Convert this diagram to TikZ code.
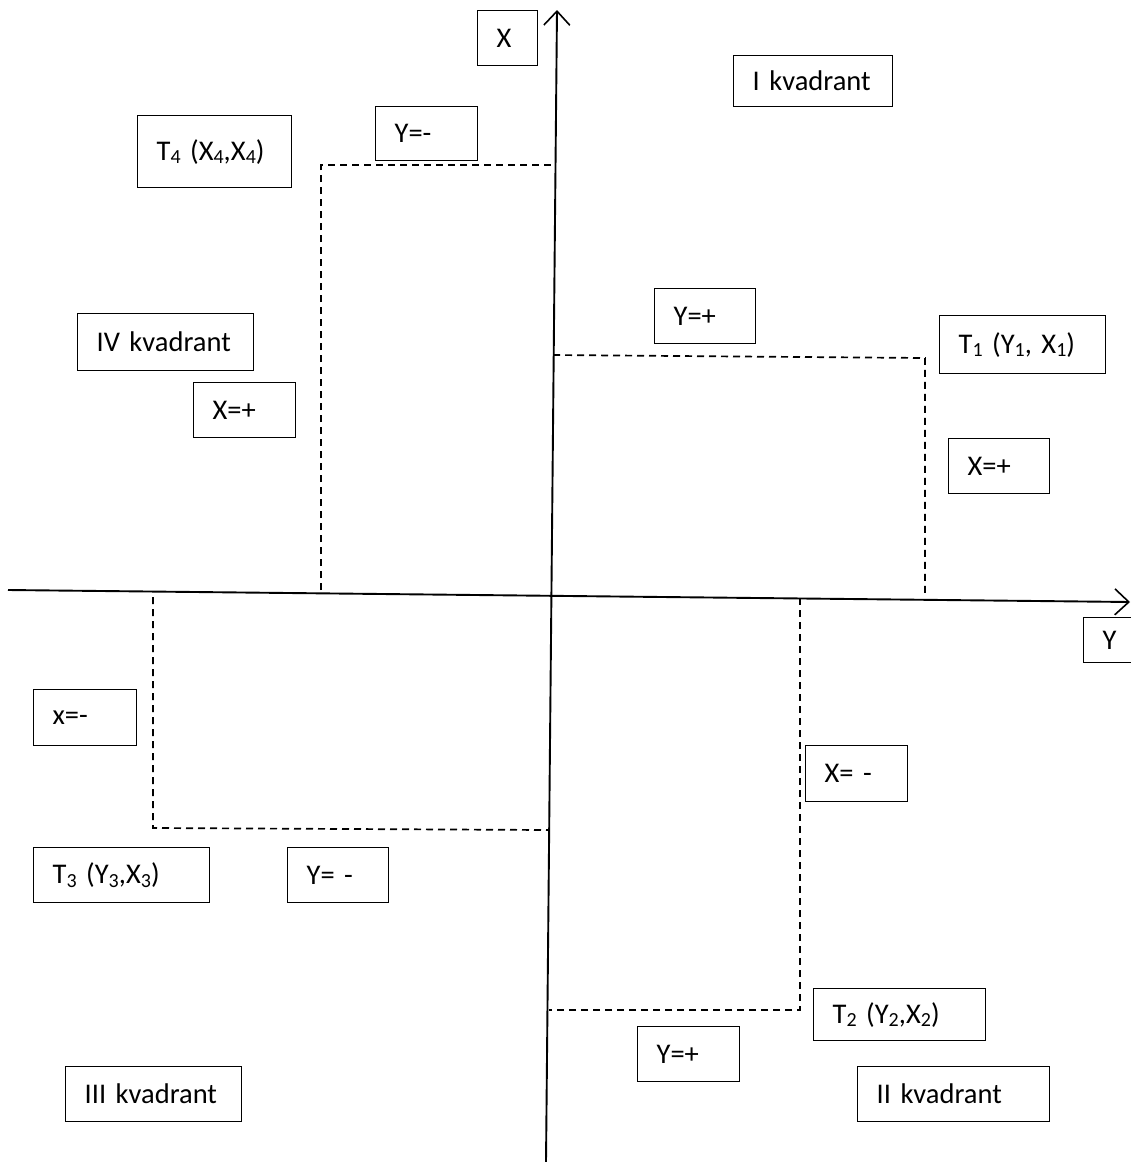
\documentclass[tikz,border=0pt]{standalone}
\usepackage{fontspec}
\setmainfont{Carlito}
\usetikzlibrary{arrows.meta}
\newcommand{\lowidx}[1]{\raisebox{-0.12em}{\fontsize{20}{20}\selectfont #1}}
\tikzset{
  lbl/.style={draw=black, line width=1.3pt, inner xsep=19pt, inner ysep=0pt, align=left,
    font=\fontsize{28.5}{31}\selectfont, anchor=north west},
  axis/.style={line width=1.9pt, -{Straight Barb[length=14pt,width=26pt,line width=1.6pt]}},
  guide/.style={line width=1.7pt, dash pattern=on 7pt off 5pt},
}
\newcommand{\lbox}[6]{% name, x1, y1, x2, y2, text
  \pgfmathsetmacro{\tw}{#4-#2-38}
  \pgfmathsetmacro{\hh}{#5-#3}
  \node[lbl, text width=\tw pt, minimum height=\hh pt] (#1) at (#2,#3) {#6};}
\begin{document}
\begin{tikzpicture}[x=1pt,y=-1pt]
\useasboundingbox[fill=white] (0,0) rectangle (1130,1162);
% axes
\coordinate (xb) at (546,1162);
\coordinate (xt) at (557,10);
\coordinate (yl) at (8,590);
\coordinate (yr) at (1130,602);
\draw[axis] (xb) -- (xt);
\draw[axis] (yl) -- (yr);
% dashed guides
\coordinate (a1) at (321,590); \coordinate (a2) at (321,165); \coordinate (a3) at (553,165);
\draw[guide] (a1) -- (a2) -- (a3);
\coordinate (b1) at (553,355); \coordinate (b2) at (925,358); \coordinate (b3) at (925,597);
\draw[guide] (b1) -- (b2) -- (b3);
\coordinate (c1) at (153,597); \coordinate (c2) at (153,828); \coordinate (c3) at (548,830);
\draw[guide] (c1) -- (c2) -- (c3);
\coordinate (d1) at (800,598); \coordinate (d2) at (800,1010); \coordinate (d3) at (549,1010);
\draw[guide] (d1) -- (d2) -- (d3);
% label boxes
\lbox{lx}{477}{10}{537}{65}{X}
\lbox{q1}{733}{55}{892}{106}{I kvadrant}
\lbox{ym4}{375}{106}{477}{160}{Y=-}
\lbox{t4}{137}{115}{291}{187}{T\lowidx{4} (X\lowidx{4},X\lowidx{4})}
\lbox{yp1}{654}{288}{755}{343}{Y=+}
\lbox{t1}{939}{315}{1105}{373}{T\lowidx{1} (Y\lowidx{1}, X\lowidx{1})}
\lbox{q4}{77}{313}{253}{370}{IV kvadrant}
\lbox{xp4}{193}{382}{295}{437}{X=+}
\lbox{xp1}{948}{438}{1049}{493}{X=+}
\lbox{ly}{1083}{617}{1145}{662}{Y}
\lbox{xm3}{33}{689}{136}{745}{x=-}
\lbox{xm2}{805}{745}{907}{801}{X= -}
\lbox{t3}{33}{847}{209}{902}{T\lowidx{3} (Y\lowidx{3},X\lowidx{3})}
\lbox{ym3}{287}{847}{388}{902}{Y= -}
\lbox{t2}{813}{988}{985}{1040}{T\lowidx{2} (Y\lowidx{2},X\lowidx{2})}
\lbox{yp2}{637}{1026}{739}{1081}{Y=+}
\lbox{q3}{65}{1066}{241}{1121}{III kvadrant}
\lbox{q2}{857}{1066}{1049}{1121}{II kvadrant}
\end{tikzpicture}
\end{document}
